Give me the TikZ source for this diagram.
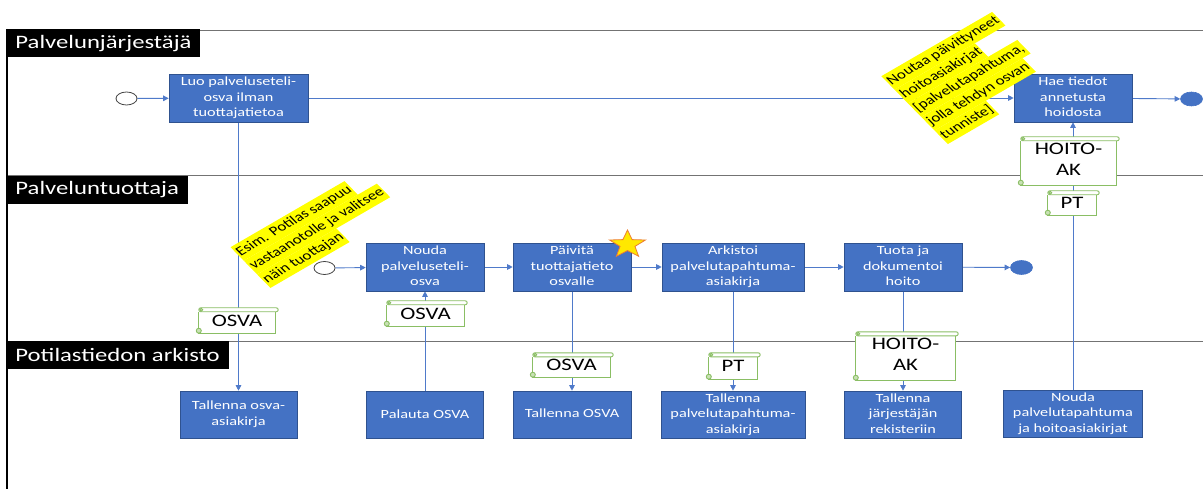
\documentclass[tikz,border=0pt]{standalone}
\usepackage{fontspec}
\usepackage{graphicx}
\setmainfont{Carlito}
\usetikzlibrary{arrows.meta,shapes.geometric}
\pgfdeclarelayer{bg}
\pgfdeclarelayer{mid}
\pgfsetlayers{bg,mid,main}

\definecolor{boxblue}{RGB}{68,114,196}
\definecolor{boxedge}{RGB}{47,82,143}
\definecolor{flowblue}{RGB}{79,122,202}
\definecolor{scrollgreen}{RGB}{138,190,100}
\definecolor{scrolllight}{RGB}{200,225,180}
\definecolor{lanegray}{RGB}{115,115,115}
\definecolor{hlyellow}{RGB}{255,255,0}
\definecolor{starfill}{RGB}{255,232,0}
\definecolor{staredge}{RGB}{237,125,49}

% text is set slightly widened, as in the drawing tool's output
\newcommand\wide[1]{\scalebox{1.3}[1]{#1}}
\newcommand\stack[1]{\wide{\begin{tabular}{@{}c@{}}#1\end{tabular}}}
\newcommand\hll[1]{{\setlength\fboxsep{0pt}\colorbox{hlyellow}{\strut\hspace{1pt}#1\hspace{1pt}}}}

% document (scroll) outline around a named node
\newcommand\scrolldeco[1]{%
  \draw[scrollline, fill=white]
    ([xshift=3pt,yshift=-4pt]#1.north west) -- ([xshift=3pt]#1.south west)
    -- ([xshift=-3pt]#1.south east) -- ([xshift=-3pt,yshift=-4pt]#1.north east);
  \draw[scrollline, fill=white, rounded corners=2pt]
    ([xshift=3pt]#1.north west) rectangle ([yshift=-4pt]#1.north east);
  \draw[scrollline, fill=scrolllight]
    ([xshift=3pt,yshift=2.5pt]#1.south west) circle (2.5pt);
  \draw[scrollline, fill=scrolllight]
    ([xshift=5.5pt,yshift=-2pt]#1.north west) circle (1.5pt);
}

\begin{document}
\begin{tikzpicture}[x=1pt,y=-1pt,
  proc/.style={rectangle, fill=boxblue, draw=boxedge, line width=0.6pt,
    text=white, inner sep=0pt, font=\fontsize{12.5}{15.5}\selectfont},
  startev/.style={ellipse, draw=black!75, fill=white, line width=0.8pt,
    minimum width=21pt, minimum height=13pt, inner sep=0pt},
  endev/.style={ellipse, fill=boxblue, draw=boxblue, line width=0.6pt,
    minimum width=22pt, minimum height=14pt, inner sep=0pt},
  conn/.style={draw=flowblue, line width=0.9pt, -{Triangle[length=5.5pt,width=5.5pt]}},
  lanelabel/.style={rectangle, fill=black, text=white, anchor=north west,
    inner xsep=9pt, inner ysep=0pt, minimum height=28pt,
    font=\fontsize{19}{22}\selectfont},
  doc/.style={rectangle, inner sep=0pt, text=black, font=\fontsize{17.5}{21}\selectfont},
  scrollline/.style={draw=scrollgreen, line width=0.9pt},
  note/.style={align=left, inner sep=0pt, text=black, font=\fontsize{13}{17}\selectfont},
  laneline/.style={draw=lanegray, line width=1.2pt}
]
\useasboundingbox (0,0) rectangle (1203,489);

% ---- lane frame ----
\begin{pgfonlayer}{bg}
  \fill[white] (0,0) rectangle (1203,489);
  \draw[laneline] (7,30.5) -- (1203,30.5);
  \draw[laneline] (7,175.5) -- (1203,175.5);
  \draw[laneline] (7,341.5) -- (1203,341.5);
  \draw[black, line width=1.5pt] (7,29) -- (7,489);
\end{pgfonlayer}

\node[lanelabel] (lane1) at (6.25,29) {\wide{Palvelunjärjestäjä}};
\node[lanelabel] (lane2) at (6.25,175.5) {\wide{Palveluntuottaja}};
\node[lanelabel] (lane3) at (6.25,341) {\wide{Potilastiedon arkisto}};

% ---- lane 1: Palvelunjärjestäjä ----
\node[startev] (s1) at (126.5,98.5) {};
\node[proc, minimum width=139pt, minimum height=48pt] (b1) at (238.5,98)
  {\stack{Luo palveluseteli-\\osva ilman\\tuottajatietoa}};
\node[proc, minimum width=118pt, minimum height=48pt] (b2) at (1073,98)
  {\stack{Hae tiedot\\annetusta\\hoidosta}};
\node[endev] (e1) at (1191.5,99) {};

% ---- lane 2: Palveluntuottaja ----
\node[startev] (s2) at (324.5,268) {};
\node[proc, minimum width=118pt, minimum height=48pt] (b3) at (425,267)
  {\stack{Nouda\\palveluseteli-\\osva}};
\node[proc, minimum width=118pt, minimum height=48pt] (b4) at (572,267)
  {\stack{Päivitä\\tuottajatieto\\osvalle}};
\node[proc, minimum width=142pt, minimum height=48pt] (b5) at (733,267)
  {\stack{Arkistoi\\palvelutapahtuma-\\asiakirja}};
\node[proc, minimum width=118pt, minimum height=48pt] (b6) at (903,267)
  {\stack{Tuota ja\\dokumentoi\\hoito}};
\node[endev] (e2) at (1021.5,267.5) {};

% ---- lane 3: Potilastiedon arkisto ----
\node[proc, minimum width=117pt, minimum height=47pt] (b7) at (238.5,414.5)
  {\stack{Tallenna osva-\\asiakirja}};
\node[proc, minimum width=117pt, minimum height=47pt] (b8) at (425,415)
  {\stack{Palauta OSVA}};
\node[proc, minimum width=118pt, minimum height=47pt] (b9) at (572,414.5)
  {\stack{Tallenna OSVA}};
\node[proc, minimum width=144pt, minimum height=47pt] (b10) at (733,414.5)
  {\stack{Tallenna\\palvelutapahtuma-\\asiakirja}};
\node[proc, minimum width=117pt, minimum height=47pt] (b11) at (903,414.5)
  {\stack{Tallenna\\järjestäjän\\rekisteriin}};
\node[proc, minimum width=139pt, minimum height=47pt] (b12) at (1073,413.5)
  {\stack{Nouda\\palvelutapahtuma\\ja hoitoasiakirjat}};

% ---- documents on the flows ----
\node[doc, minimum width=82pt, minimum height=25pt] (d1) at (237,320.5) {\wide{OSVA}};
\node[doc, minimum width=83pt, minimum height=25pt] (d2) at (425.5,313.5) {\wide{OSVA}};
\node[doc, minimum width=83pt, minimum height=24pt] (d3) at (571.5,365) {\wide{OSVA}};
\node[doc, minimum width=54pt, minimum height=26pt] (d4) at (733,366) {\wide{PT}};
\node[doc, minimum width=105pt, minimum height=48pt] (d5) at (905.5,356) {\stack{HOITO-\\AK}};
\node[doc, minimum width=101pt, minimum height=48pt] (d6) at (1068.5,161) {\stack{HOITO-\\AK}};
\node[doc, minimum width=54pt, minimum height=24pt] (d7) at (1072,203) {\wide{PT}};

\begin{pgfonlayer}{mid}
  \scrolldeco{d1}\scrolldeco{d2}\scrolldeco{d3}\scrolldeco{d4}
  \scrolldeco{d5}\scrolldeco{d6}\scrolldeco{d7}
\end{pgfonlayer}

% ---- sequence and data flows ----
\begin{pgfonlayer}{bg}
  \draw[conn] (s1) -- (b1);
  \draw[conn] (b1) -- (b2);
  \draw[conn] (b2) -- (e1);
  \draw[conn] (b1.south) -- (b1.south |- b7.north);
  \draw[conn] (s2) -- (b3);
  \draw[conn] (b3) -- (b4);
  \draw[conn] (b4) -- (b5);
  \draw[conn] (b5) -- (b6);
  \draw[conn] (b6) -- (e2);
  \draw[conn] (b8.north) -- (b8.north |- b3.south);
  \draw[conn] (b4.south) -- (b4.south |- b9.north);
  \draw[conn] (b5.south) -- (b5.south |- b10.north);
  \draw[conn] (b6.south) -- (b6.south |- b11.north);
  \draw[conn] (b12.north) -- (b12.north |- b2.south);
\end{pgfonlayer}

% ---- highlight star on the update task ----
\begin{scope}[shift={(627.5,244.5)}, xscale=1.3]
  \node[star, star points=5, star point ratio=2.4, minimum size=29pt, inner sep=0pt,
    transform shape, fill=starfill, draw=staredge, line width=0.8pt] (star) {};
\end{scope}

% ---- notes ----
\begin{scope}[shift={(970,78)}, xscale=1.3]
  \node[note, rotate=37, transform shape] (n1)
    {\hll{Noutaa päivittyneet}\\\hll{hoitoasiakirjat}\\\hll{[palvelutapahtuma,}\\\hll{jolla tehdyn osvan}\\\hll{tunniste]}};
\end{scope}
\begin{scope}[shift={(317,229)}, xscale=1.3]
  \node[note, rotate=37, transform shape] (n2)
    {\hll{Esim. Potilas saapuu}\\\hll{vastaanotolle ja valitsee}\\\hll{näin tuottajan}};
\end{scope}

\end{tikzpicture}
\end{document}
